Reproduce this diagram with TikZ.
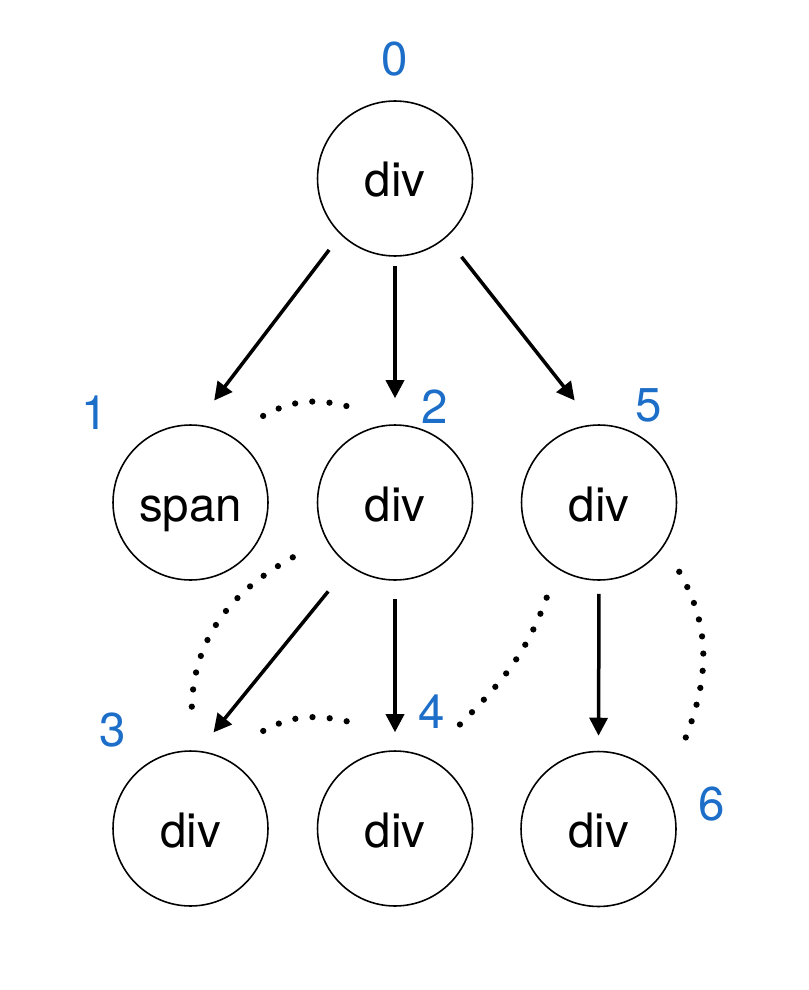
\documentclass[tikz,border=0pt]{standalone}
\usepackage{fontspec}
\setmainfont{TeX Gyre Heros}
\usepackage{tikz}
\usetikzlibrary{calc,arrows.meta}
\definecolor{idxblue}{RGB}{28,110,200}

\begin{document}
\begin{tikzpicture}[x=0.02cm, y=0.02cm,
		elem/.style={draw, circle, line width=0.9pt, minimum size=3.1cm, inner sep=0pt, text height=0.74cm, text depth=0pt, font=\fontsize{27}{32}\selectfont},
		idx/.style={text=idxblue, inner sep=0pt, font=\fontsize{27}{32}\selectfont},
		child/.style={line width=0.07cm, -{Triangle[length=0.36cm, width=0.36cm]}},
		sib/.style={line width=0.125cm, line cap=round, dash pattern=on 0pt off 0.345cm}]
			%%%%% START %%%%%
			\useasboundingbox (0, 0) rectangle (808, -990);
			
			% elements
			\node[elem] (root) at (395, -178.5) {div};
			\node[elem] (span) at (190.5, -502.5) {span};
			\node[elem] (div2) at (395, -502.5) {div};
			\node[elem] (div5) at (599, -502.5) {div};
			\node[elem] (div3) at (190.5, -828.5) {div};
			\node[elem] (div4) at (395, -828.5) {div};
			\node[elem] (div6) at (598.5, -829) {div};
			
			% indices
			\node[idx] (i0) at (395, -59) {0};
			\node[idx] (i1) at (95, -413) {1};
			\node[idx] (i2) at (435, -407) {2};
			\node[idx] (i3) at (113, -730) {3};
			\node[idx] (i4) at (432, -712) {4};
			\node[idx] (i5) at (649, -405) {5};
			\node[idx] (i6) at (712, -804) {6};
			
			% children
			\draw[child, shorten <=0.38cm, shorten >=0.6cm] (root.226) -- (span.86);
			\draw[child, shorten <=0.18cm, shorten >=0.52cm] (root.270) -- (div2.90);
			\draw[child, shorten <=0.49cm, shorten >=0.61cm] (root.311) -- (div5.94);
			\draw[child, shorten <=0.66cm, shorten >=0.47cm] (div2.234) -- (div3.84);
			\draw[child, shorten <=0.36cm, shorten >=0.36cm] (div2.270) -- (div4.90);
			\draw[child, shorten <=0.26cm, shorten >=0.3cm] (div5.270) -- (div6.90);
			
			% siblings
			\draw[sib] ($(span)+(50:113)$) to[out=29, in=165] ($(div2)+(115.2:105.6)$);
			\draw[sib] ($(div2)+(208.2:116)$) to[out=209, in=90] ($(div3)+(89.4:115.8)$);
			\draw[sib] ($(div3)+(53.3:121.7)$) to[out=29, in=167] ($(div4)+(112.9:115.6)$);
			\draw[sib] ($(div5)+(241.2:108.6)$) to[out=250, in=45] ($(div4)+(58.8:115.9)$);
			\draw[sib] ($(div5)+(-40.8:106)$) to[out=-60, in=68] ($(div6)+(45.1:120)$);
			
			%%%%% END %%%%%
\end{tikzpicture}
\end{document}
